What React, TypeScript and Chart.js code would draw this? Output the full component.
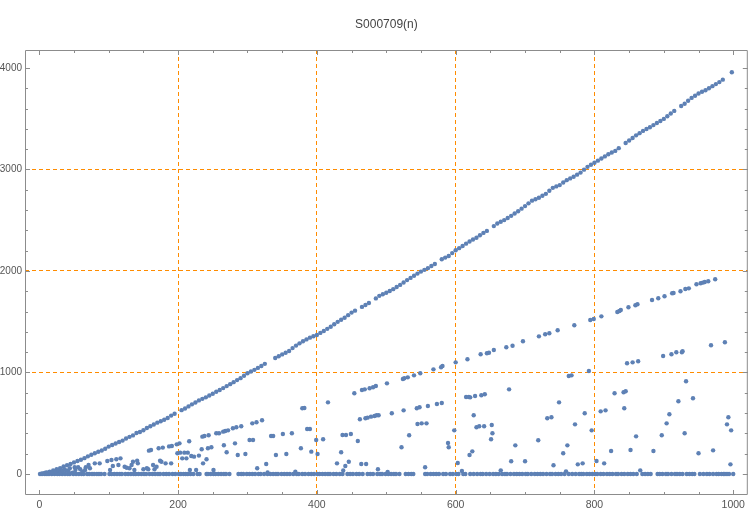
import React, { useEffect, useRef } from "react";
import { Chart, registerables } from "chart.js";

Chart.register(...registerables);

const TITLE = "S000709(n)";
const X_TICKS = [0, 200, 400, 600, 800, 1000];
const Y_TICKS = [0, 1000, 2000, 3000, 4000];
const X_GRID = [200, 400, 600, 800];
const Y_GRID = [1000, 2000, 3000];
const X_MINOR_STEP = 50;
const Y_MINOR_STEP = 200;

// n values where the sequence is 0
const zeroN = [
  1, 4, 8, 11, 14, 18, 22, 26, 29, 33, 37, 41, 44, 49, 53, 57, 61, 64, 69, 72, 76, 79, 83, 86, 89, 94,
  101, 104, 108, 112, 116, 119, 124, 128, 132, 136, 139, 143, 147, 151, 154, 159, 163, 167, 171, 174,
  179, 183, 187, 192, 196, 201, 204, 208, 211, 214, 218, 222, 228, 231, 241, 243, 247, 251, 254, 258,
  262, 266, 269, 274, 287, 291, 294, 299, 303, 307, 311, 316, 319, 324, 329, 333, 337, 341, 344, 349,
  353, 357, 361, 366, 371, 374, 379, 383, 388, 392, 396, 401, 404, 408, 412, 416, 419, 424, 428, 433,
  437, 444, 448, 452, 457, 461, 466, 473, 477, 481, 487, 491, 494, 499, 503, 507, 511, 514, 519, 528,
  532, 536, 539, 556, 559, 564, 568, 572, 576, 582, 586, 592, 596, 601, 604, 611, 614, 621, 626, 631,
  636, 639, 644, 649, 654, 658, 662, 667, 671, 674, 679, 684, 688, 692, 696, 701, 704, 709, 714, 718,
  722, 726, 731, 736, 739, 744, 748, 752, 757, 763, 768, 773, 778, 781, 784, 789, 793, 797, 801, 804,
  809, 813, 818, 822, 826, 831, 834, 839, 843, 848, 852, 856, 861, 869, 873, 877, 881, 891, 894, 898,
  903, 906, 911, 916, 919, 923, 927, 933, 937, 941, 944, 952, 957, 962, 966, 971, 976, 979, 983, 986,
  988, 991, 994, 1000,
];

// the top line [n, value]
const upperBand: [number, number][] = [
  [3, 2], [5, 5], [10, 14], [15, 23], [20, 35], [25, 48], [30, 56], [35, 74], [40, 86], [45, 98],
  [50, 114], [55, 128], [60, 140], [65, 156], [70, 174], [75, 189], [80, 204], [85, 219], [90, 231],
  [95, 249], [100, 270], [105, 285], [110, 300], [115, 315], [120, 329], [125, 350], [130, 366],
  [135, 380], [140, 404], [145, 414], [150, 431], [155, 453], [160, 470], [165, 488], [170, 506],
  [175, 519], [180, 534], [185, 551], [190, 575], [195, 593], [205, 629], [210, 645], [215, 666],
  [220, 686], [225, 705], [230, 725], [235, 740], [240, 755], [245, 773], [250, 791], [255, 810],
  [260, 828], [265, 846], [270, 866], [275, 885], [280, 905], [285, 925], [290, 944], [295, 968],
  [300, 993], [305, 1010], [310, 1026], [315, 1045], [320, 1064], [325, 1085], [340, 1143],
  [345, 1160], [350, 1178], [355, 1195], [360, 1211], [365, 1240], [370, 1265], [375, 1287],
  [380, 1308], [385, 1326], [390, 1343], [395, 1357], [400, 1370], [405, 1390], [410, 1409],
  [415, 1430], [420, 1451], [425, 1475], [430, 1499], [435, 1519], [440, 1539], [445, 1565],
  [450, 1590], [455, 1609], [465, 1646], [470, 1665], [475, 1685], [485, 1730], [490, 1755],
  [495, 1770], [500, 1785], [505, 1803], [510, 1821], [515, 1842], [520, 1863], [525, 1886],
  [530, 1910], [535, 1932], [540, 1953], [545, 1974], [550, 1994], [555, 2011], [560, 2028],
  [565, 2049], [570, 2069], [580, 2115], [585, 2132], [590, 2148], [595, 2176], [600, 2204],
  [605, 2225], [610, 2246], [615, 2269], [620, 2291], [625, 2310], [630, 2328], [635, 2352],
  [640, 2375], [645, 2395], [655, 2442], [660, 2468], [665, 2485], [670, 2501], [675, 2522],
  [680, 2543], [685, 2566], [690, 2589], [695, 2614], [700, 2639], [705, 2666], [710, 2693],
  [715, 2707], [720, 2721], [725, 2741], [730, 2760], [735, 2790], [740, 2819], [745, 2833],
  [750, 2846], [755, 2871], [760, 2895], [765, 2912], [770, 2928], [775, 2949], [780, 2969],
  [785, 2998], [790, 3026], [795, 3046], [800, 3066], [805, 3087], [810, 3108], [815, 3129],
  [820, 3150], [825, 3167], [830, 3183], [835, 3210], [845, 3261], [850, 3285], [855, 3310],
  [860, 3336], [865, 3358], [870, 3380], [875, 3398], [880, 3416], [885, 3437], [890, 3458],
  [895, 3478], [900, 3498], [905, 3525], [910, 3551], [915, 3577], [925, 3626], [930, 3648],
  [935, 3677], [940, 3705], [945, 3727], [950, 3749], [955, 3765], [960, 3780], [965, 3800],
  [970, 3821], [975, 3841], [980, 3861], [985, 3885], [998, 3958],
];

// the second line [n, value]
const quarterBand: [number, number][] = [
  [71, 89], [80, 105], [87, 105], [98, 128], [104, 138], [111, 145], [117, 154], [158, 230],
  [161, 236], [172, 253], [178, 260], [187, 272], [191, 276], [198, 292], [202, 302], [216, 322],
  [235, 368], [238, 374], [244, 381], [255, 401], [259, 401], [265, 417], [268, 423], [272, 430],
  [279, 450], [284, 460], [291, 470], [307, 499], [313, 509], [321, 529], [379, 647], [382, 650],
  [416, 706], [454, 795], [465, 828], [469, 834], [476, 844], [481, 854], [485, 867], [501, 893],
  [524, 936], [526, 943], [531, 952], [540, 972], [549, 992], [568, 1031], [579, 1051], [581, 1064],
  [600, 1100], [617, 1130], [636, 1179], [645, 1189], [648, 1195], [655, 1222], [673, 1248],
  [682, 1264], [697, 1307], [720, 1356], [729, 1376], [735, 1386], [747, 1416], [771, 1465],
  [794, 1517], [799, 1527], [810, 1553], [833, 1596], [836, 1606], [838, 1616], [849, 1642],
  [859, 1662], [862, 1672], [883, 1714], [892, 1731], [901, 1751], [912, 1780], [914, 1783],
  [924, 1800], [931, 1823], [936, 1829], [947, 1869], [953, 1879], [956, 1885], [959, 1892],
  [964, 1899], [974, 1918],
];

// all remaining points [n, value]
const otherPoints: [number, number][] = [
  [8, 9], [12, 13], [16, 17], [19, 13], [23, 22], [27, 39], [31, 23], [34, 30], [36, 46], [39, 36],
  [42, 26], [44, 56], [48, 13], [51, 66], [52, 39], [56, 66], [59, 46], [62, 23], [66, 39], [67, 66],
  [73, 56], [102, 39], [106, 79], [114, 89], [123, 72], [126, 62], [130, 56], [133, 89], [135, 121],
  [137, 39], [141, 131], [142, 105], [150, 46], [155, 56], [157, 46], [164, 89], [166, 46], [169, 72],
  [174, 131], [176, 121], [182, 105], [190, 105], [199, 204], [203, 210], [206, 154], [209, 210],
  [212, 154], [214, 210], [217, 39], [219, 177], [223, 171], [226, 39], [230, 181], [234, 243],
  [236, 105], [241, 145], [243, 253], [248, 263], [251, 39], [266, 283], [270, 214], [282, 302],
  [286, 187], [297, 197], [303, 335], [308, 335], [314, 56], [327, 98], [329, 14], [334, 374],
  [337, 374], [341, 187], [351, 394], [356, 197], [364, 401], [369, 23], [377, 253], [386, 443],
  [390, 443], [392, 220], [399, 335], [401, 197], [409, 342], [429, 105], [435, 214], [437, 384],
  [438, 35], [441, 79], [442, 384], [446, 121], [449, 394], [459, 325], [462, 539], [464, 98],
  [470, 549], [471, 98], [473, 555], [478, 565], [483, 571], [486, 578], [488, 46], [489, 578],
  [502, 20], [508, 598], [522, 263], [525, 627], [533, 381], [544, 647], [545, 493], [548, 657],
  [551, 499], [556, 66], [558, 499], [560, 670], [573, 690], [580, 700], [589, 305], [590, 263],
  [598, 430], [603, 108], [609, 30], [615, 759], [619, 759], [620, 187], [621, 755], [624, 223],
  [626, 578], [628, 768], [630, 460], [634, 470], [637, 775], [641, 470], [642, 785], [651, 342],
  [652, 483], [653, 401], [665, 36], [677, 834], [680, 125], [686, 282], [700, 125], [719, 332],
  [732, 549], [738, 559], [741, 86], [749, 706], [755, 204], [759, 26], [761, 282], [763, 965],
  [767, 972], [772, 489], [776, 95], [783, 105], [786, 598], [792, 1015], [796, 430], [803, 128],
  [809, 617], [814, 105], [816, 627], [824, 227], [829, 795], [842, 805], [843, 647], [845, 815],
  [847, 1091], [852, 236], [855, 1100], [860, 371], [863, 1110], [866, 36], [885, 227], [897, 381],
  [899, 1163], [904, 499], [908, 588], [911, 1179], [918, 1199], [921, 716], [926, 1199], [927, 1209],
  [930, 401], [932, 913], [942, 746], [950, 204], [968, 1268], [971, 233], [988, 1298], [991, 489],
  [993, 559], [996, 95], [997, 430],
];

const X_MIN = -20.6;
const X_MAX = 1021;
const Y_MIN = -207;
const Y_MAX = 4177;

const FONT = "'Liberation Sans', Arial, sans-serif";
const POINT_COLOR = "#5E81B5";
const GRID_COLOR = "#FF8C00";
const FRAME_COLOR = "#8c8c8c";
const LABEL_COLOR = "#555555";

const framePlugin = {
  id: "mmaFrame",
  afterDatasetsDraw(chart: any) {
    const { ctx, chartArea, scales } = chart;
    const { left, right, top, bottom } = chartArea;
    const xs = scales.x;
    const ys = scales.y;
    ctx.save();
    ctx.strokeStyle = FRAME_COLOR;
    ctx.lineWidth = 1;
    ctx.beginPath();
    ctx.rect(left + 0.5, top + 0.5, right - left - 1, bottom - top - 1);
    ctx.stroke();
    ctx.beginPath();
    for (let v = X_TICKS[0]; v <= X_TICKS[X_TICKS.length - 1]; v += X_MINOR_STEP) {
      const px = Math.round(xs.getPixelForValue(v)) + 0.5;
      const len = X_TICKS.includes(v) ? 5 : 3;
      ctx.moveTo(px, bottom);
      ctx.lineTo(px, bottom - len);
      ctx.moveTo(px, top);
      ctx.lineTo(px, top + len);
    }
    for (let v = Y_TICKS[0]; v <= Y_TICKS[Y_TICKS.length - 1]; v += Y_MINOR_STEP) {
      const py = Math.round(ys.getPixelForValue(v)) + 0.5;
      const len = Y_TICKS.includes(v) ? 5 : 3;
      ctx.moveTo(left, py);
      ctx.lineTo(left + len, py);
      ctx.moveTo(right, py);
      ctx.lineTo(right - len, py);
    }
    ctx.stroke();
    ctx.restore();
  },
};

export default function App() {
  const canvasRef = useRef<HTMLCanvasElement | null>(null);

  useEffect(() => {
    document.body.style.margin = "0";
    const canvas = canvasRef.current;
    if (!canvas) return;
    const toPoint = ([x, y]: [number, number]) => ({ x, y });
    const data = [
      ...zeroN.map((n) => ({ x: n, y: 0 })),
      ...upperBand.map(toPoint),
      ...quarterBand.map(toPoint),
      ...otherPoints.map(toPoint),
    ];
    const xTickFont = { family: FONT, size: 10.5 };
    const yTickFont = { family: FONT, size: 10 };
    const chart = new Chart(canvas, {
      type: "scatter",
      data: {
        datasets: [
          {
            data,
            pointRadius: 2.2,
            pointHoverRadius: 2.2,
            pointBackgroundColor: POINT_COLOR,
            pointBorderWidth: 0,
            showLine: false,
          },
        ],
      },
      plugins: [framePlugin],
      options: {
        responsive: false,
        animation: false,
        devicePixelRatio: 1,
        events: [],
        layout: { padding: { left: 0, right: 1, top: 0, bottom: 0 } },
        plugins: {
          legend: { display: false },
          tooltip: { enabled: false },
          title: {
            display: true,
            text: TITLE,
            fullSize: false,
            color: "#444444",
            font: { family: FONT, size: 12, weight: "normal" },
            padding: { top: 17, bottom: 18.6 },
          },
        },
        scales: {
          x: {
            type: "linear",
            min: X_MIN,
            max: X_MAX,
            afterBuildTicks: (s: any) => {
              s.ticks = X_TICKS.map((value) => ({ value }));
            },
            afterFit: (s: any) => {
              s.height = 19;
            },
            ticks: {
              callback: (v: any) => String(v),
              color: LABEL_COLOR,
              font: xTickFont,
              padding: 4,
              maxRotation: 0,
              autoSkip: false,
            },
            grid: {
              drawTicks: false,
              lineWidth: 1,
              color: (c: any) => (c.tick && X_GRID.includes(c.tick.value) ? GRID_COLOR : "rgba(0,0,0,0)"),
            },
            border: { display: false, dash: [4, 3] },
          },
          y: {
            type: "linear",
            min: Y_MIN,
            max: Y_MAX,
            afterBuildTicks: (s: any) => {
              s.ticks = Y_TICKS.map((value) => ({ value }));
            },
            afterFit: (s: any) => {
              s.width = 25;
            },
            ticks: {
              callback: (v: any) => String(v),
              color: LABEL_COLOR,
              font: yTickFont,
              padding: 3,
              autoSkip: false,
            },
            grid: {
              drawTicks: false,
              lineWidth: 1,
              color: (c: any) => (c.tick && Y_GRID.includes(c.tick.value) ? GRID_COLOR : "rgba(0,0,0,0)"),
            },
            border: { display: false, dash: [4, 3] },
          },
        },
      },
    } as any);
    return () => chart.destroy();
  }, []);

  return (
    <div style={{ position: "absolute", left: 0, top: 0, width: 750, height: 514, background: "#fff" }}>
      <canvas ref={canvasRef} width={750} height={514} style={{ display: "block" }} />
    </div>
  );
}
